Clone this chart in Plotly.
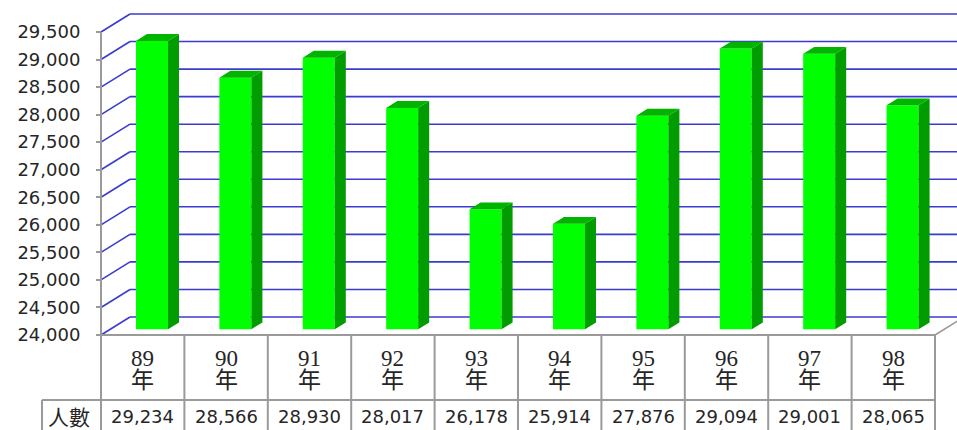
import plotly.graph_objects as go

# ---- data ----
years = ["89", "90", "91", "92", "93", "94", "95", "96", "97", "98"]
year_suffix = "年"
counts = [29234, 28566, 28930, 28017, 26178, 25914, 27876, 29094, 29001, 28065]
row_label = "人數"
y_ticks = list(range(24000, 30000, 500))
y_min = 24000

# ---- geometry (pixels) ----
W, H = 957, 430
AX_X = 101.0        # front y-axis x position
CAT_W = 83.4        # category width
FLOOR_Y = 335.0     # pixel y of y_min on front plane
TOP_Y = 32.0        # pixel y of last tick on front plane
DEPTH_X, DEPTH_Y = 29.0, 18.0   # back-wall offset
BAR_FRONT = 0.32    # depth fraction of bar front face
BAR_DEPTH = 0.38    # depth fraction of bar thickness
BAR_W = 32.0        # bar width, px
HDR_BOTTOM = 400.0
LABEL_LEFT = 42.0

units_per_px = (y_ticks[-1] - y_min) / (FLOOR_Y - TOP_Y)


def X(px):
    return (px - AX_X) / CAT_W - 0.5


def Y(py):
    return y_min + (FLOOR_Y - py) * units_per_px


dxd = DEPTH_X / CAT_W
dyd = DEPTH_Y * units_per_px
n = len(years)

GRID = "#3b3bd0"
TABLE = "#9a9a9a"
FRONT = "#00ff00"
SIDE = "#009c00"
TOPC = "#00b400"
TXT = "#262626"

fig = go.Figure()

shapes = []
# back wall gridlines + diagonals
for v in y_ticks:
    shapes.append(dict(type="line", xref="x", yref="y", x0=-0.5, y0=v, x1=-0.5 + dxd, y1=v + dyd,
                       line=dict(color=GRID, width=1.6), layer="below"))
    shapes.append(dict(type="line", xref="x", yref="y", x0=-0.5 + dxd, y0=v + dyd, x1=n - 0.5 + dxd + 1, y1=v + dyd,
                       line=dict(color=GRID, width=1.6), layer="below"))
# floor right edge
shapes.append(dict(type="line", xref="x", yref="y", x0=n - 0.5, y0=y_min, x1=n - 0.5 + dxd, y1=y_min + dyd,
                   line=dict(color=TABLE, width=1.6)))
# y axis line
shapes.append(dict(type="line", xref="x", yref="y", x0=-0.5, y0=y_ticks[-1], x1=-0.5, y1=Y(H + 5),
                   line=dict(color=TABLE, width=2)))
# table
for k in range(1, n + 1):
    shapes.append(dict(type="line", xref="x", yref="y", x0=k - 0.5, y0=y_min, x1=k - 0.5, y1=Y(H + 5),
                       line=dict(color=TABLE, width=2)))
shapes.append(dict(type="line", xref="x", yref="y", x0=-0.5, y0=y_min, x1=n - 0.5, y1=y_min,
                   line=dict(color=TABLE, width=2)))
shapes.append(dict(type="line", xref="x", yref="y", x0=X(LABEL_LEFT), y0=Y(HDR_BOTTOM), x1=n - 0.5, y1=Y(HDR_BOTTOM),
                   line=dict(color=TABLE, width=2)))
shapes.append(dict(type="line", xref="x", yref="y", x0=X(LABEL_LEFT), y0=Y(HDR_BOTTOM), x1=X(LABEL_LEFT), y1=Y(H + 5),
                   line=dict(color=TABLE, width=2)))

# bars: front faces
bw = BAR_W / CAT_W
xc = [i + BAR_FRONT * dxd for i in range(n)]
base = y_min + BAR_FRONT * dyd
fig.add_trace(go.Bar(x=xc, y=[v - y_min for v in counts], base=[base] * n, width=[bw] * n,
                     marker=dict(color=FRONT, line=dict(width=0)), hoverinfo="skip", showlegend=False))

# side and top faces
ddx, ddy = BAR_DEPTH * dxd, BAR_DEPTH * dyd
sx, sy, tx, ty = [], [], [], []
for i, v in enumerate(counts):
    xl = xc[i] - bw / 2
    xr = xl + bw
    yb = base
    yt = v - y_min + base
    sx += [xr, xr, xr + ddx, xr + ddx, xr, None]
    sy += [yb, yt, yt + ddy, yb + ddy, yb, None]
    tx += [xl, xr, xr + ddx, xl + ddx, xl, None]
    ty += [yt, yt, yt + ddy, yt + ddy, yt, None]
fig.add_trace(go.Scatter(x=sx, y=sy, fill="toself", fillcolor=SIDE, mode="lines", line=dict(width=0, color=SIDE),
                         hoverinfo="skip", showlegend=False))
fig.add_trace(go.Scatter(x=tx, y=ty, fill="toself", fillcolor=TOPC, mode="lines", line=dict(width=0, color=TOPC),
                         hoverinfo="skip", showlegend=False))

ann = []
for i, yr in enumerate(years):
    ann.append(dict(x=i, y=Y(358), xref="x", yref="y", text=yr, showarrow=False,
                    font=dict(family="Liberation Serif, Times New Roman, serif", size=23, color=TXT)))
    ann.append(dict(x=i, y=Y(378), xref="x", yref="y", text=year_suffix, showarrow=False,
                    font=dict(family="Noto Sans CJK TC", size=23, color=TXT)))
    ann.append(dict(x=i, y=Y(416.5), xref="x", yref="y", text=f"{counts[i]:,}", showarrow=False,
                    font=dict(family="DejaVu Sans", size=18, color=TXT)))
ann.append(dict(x=X(69), y=Y(415.5), xref="x", yref="y", text=row_label, showarrow=False,
                font=dict(family="Noto Sans CJK TC", size=21, color=TXT)))

fig.update_layout(
    width=W, height=H, margin=dict(l=0, r=0, t=0, b=0, autoexpand=False),
    paper_bgcolor="white", plot_bgcolor="white",
    shapes=shapes, annotations=ann, showlegend=False,
    xaxis=dict(range=[X(0), X(W)], visible=False, fixedrange=True, automargin=False),
    yaxis=dict(range=[Y(H), Y(0)], anchor="free", position=AX_X / W, side="left",
               tickvals=y_ticks, ticktext=[f"{v:,}" for v in y_ticks],
               ticks="outside", ticklen=5, tickwidth=2, tickcolor=TABLE,
               showgrid=False, zeroline=False, showline=False, fixedrange=True, automargin=False,
               tickfont=dict(family="DejaVu Sans", size=18, color=TXT),
               ticklabelstandoff=12),
)

fig.write_html("out.html", config={"displayModeBar": False},
               post_script="document.body.style.margin='0px';document.body.style.overflow='hidden';")
